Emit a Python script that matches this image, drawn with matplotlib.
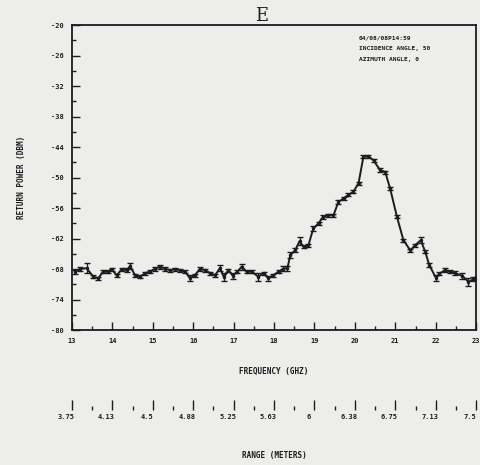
import matplotlib.pyplot as plt
from matplotlib.transforms import ScaledTranslation

# frequency (GHz) and return power (dBm)
freq = [13.07, 13.20, 13.36, 13.53, 13.65, 13.77, 13.89, 13.98, 14.11, 14.23,
        14.35, 14.44, 14.56, 14.68, 14.81, 14.93, 15.05, 15.18, 15.30, 15.43,
        15.55, 15.67, 15.80, 15.92, 16.04, 16.17, 16.29, 16.42, 16.54, 16.66,
        16.76, 16.87, 16.98, 17.09, 17.20, 17.32, 17.45, 17.61, 17.74, 17.86,
        17.98, 18.11, 18.23, 18.33, 18.40, 18.52, 18.63, 18.73, 18.85, 18.97,
        19.10, 19.21, 19.34, 19.47, 19.59, 19.72, 19.84, 19.96, 20.09, 20.21,
        20.33, 20.46, 20.62, 20.75, 20.87, 21.04, 21.20, 21.37, 21.49, 21.63,
        21.74, 21.84, 22.01, 22.09, 22.23, 22.36, 22.48, 22.65, 22.81, 22.93,
        23.00]
power = [-68.5, -68.0, -67.8, -69.5, -69.8, -68.5, -68.5, -68.0, -69.2, -68.0,
         -68.2, -67.4, -69.2, -69.5, -68.8, -68.5, -67.9, -67.5, -67.9, -68.2,
         -68.0, -68.2, -68.5, -69.8, -69.2, -67.9, -68.2, -68.8, -69.2, -67.8,
         -69.6, -68.2, -69.3, -68.5, -67.5, -68.5, -68.5, -69.5, -68.8, -69.8,
         -69.2, -68.5, -67.9, -67.8, -65.3, -64.3, -62.5, -63.6, -63.3, -60.0,
         -59.0, -57.7, -57.4, -57.4, -54.8, -54.1, -53.4, -52.8, -51.1, -45.9,
         -45.8, -46.6, -48.5, -48.9, -52.1, -57.7, -62.3, -64.3, -63.3, -62.3,
         -64.6, -67.2, -69.8, -68.9, -68.2, -68.5, -68.8, -69.3, -70.5, -70.0,
         -69.8]
err = [0.4, 0.4, 1.0, 0.3, 0.3, 0.3, 0.3, 0.3, 0.3, 0.3,
       0.4, 0.6, 0.3, 0.3, 0.3, 0.3, 0.4, 0.4, 0.4, 0.3,
       0.3, 0.3, 0.3, 0.6, 0.3, 0.4, 0.3, 0.3, 0.3, 0.6,
       0.8, 0.3, 0.6, 0.3, 0.6, 0.3, 0.3, 0.8, 0.3, 0.5,
       0.3, 0.3, 0.5, 0.5, 0.6, 0.4, 0.8, 0.3, 0.3, 0.4,
       0.3, 0.4, 0.3, 0.3, 0.4, 0.3, 0.3, 0.3, 0.3, 0.3,
       0.3, 0.3, 0.3, 0.3, 0.3, 0.3, 0.3, 0.3, 0.3, 0.6,
       0.3, 0.4, 0.6, 0.3, 0.4, 0.3, 0.4, 0.6, 0.8, 0.4,
       0.3]

y_ticks = [-20, -26, -32, -38, -44, -50, -56, -62, -68, -74, -80]
x_ticks = [13, 14, 15, 16, 17, 18, 19, 20, 21, 22, 23]
range_labels = ['3.75', '4.13', '4.5', '4.88', '5.25', '5.63', '6',
                '6.38', '6.75', '7.13', '7.5']
notes = ['04/08/08P14:59', 'INCIDENCE ANGLE, 50', 'AZIMUTH ANGLE, 0']

ink = '#1c1c1c'
paper = '#ededeb'
mono = dict(family='DejaVu Sans Mono', weight='bold', color=ink)

fig = plt.figure(figsize=(4.8, 4.65), dpi=100, facecolor=paper)
ax = fig.add_axes([0.15, 0.29, 0.842, 0.656], facecolor=paper)

ax.errorbar(freq, power, yerr=err, color=ink, lw=1.4, elinewidth=1.0,
            capsize=2, capthick=1.0, marker='.', ms=3)

ax.set_xlim(13, 23)
ax.set_ylim(-80, -20)
ax.set_xticks(x_ticks)
ax.set_xticklabels([str(t) for t in x_ticks], fontsize=5, **mono)
ax.set_xticks([t + 0.5 for t in x_ticks[:-1]], minor=True)
ax.set_yticks(y_ticks)
ax.set_yticklabels([str(t) for t in y_ticks], fontsize=5, **mono)
ax.set_yticks([t - 3 for t in y_ticks[:-1]], minor=True)
ax.tick_params(direction='in', length=6, width=1.0, color=ink, pad=6)
ax.tick_params(which='minor', direction='in', length=3, width=1.0, color=ink)
for s in ax.spines.values():
    s.set_linewidth(1.3)
    s.set_color(ink)

ax.set_xlabel('FREQUENCY (GHZ)', fontsize=5.5, labelpad=16, **mono)
ax.set_ylabel('RETURN POWER (DBM)', fontsize=5.5, labelpad=18, **mono)
ax.set_title('E', fontsize=13, family='DejaVu Serif', color=ink, pad=1,
             x=0.47)

for i, line in enumerate(notes):
    ax.text(0.71, 0.965 - i * 0.035, line, transform=ax.transAxes,
            fontsize=4.5, va='top', **mono)

# range scale under the frequency axis
rax = fig.add_axes([0.15, 0.118, 0.842, 0.0001], facecolor='none')
rax.set_xlim(0, len(range_labels) - 1)
rax.set_yticks([])
for s in rax.spines.values():
    s.set_visible(False)
rax.set_xticks(range(len(range_labels)))
rax.set_xticklabels(range_labels, fontsize=5, **mono)
rax.set_xticks([i + 0.5 for i in range(len(range_labels) - 1)], minor=True)
rax.tick_params(axis='x', direction='in', length=7, width=1.0, color=ink, pad=3)
rax.tick_params(axis='x', which='minor', direction='in', length=3, width=1.0,
                color=ink)
shift = ScaledTranslation(-6 / 100, 0, fig.dpi_scale_trans)
for lab in rax.get_xticklabels():
    lab.set_transform(lab.get_transform() + shift)
rax.set_xlabel('RANGE (METERS)', fontsize=5.5, labelpad=22, **mono)

fig.savefig('out.png', dpi=100, facecolor=paper)
